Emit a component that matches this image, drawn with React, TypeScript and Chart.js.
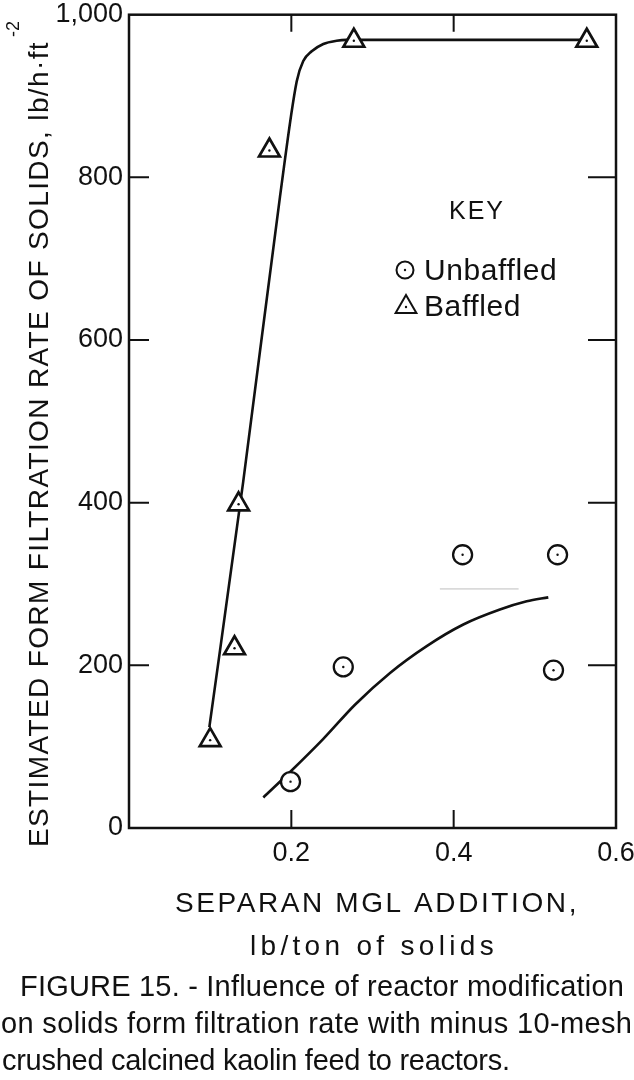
import React, { useEffect, useRef } from "react";
import { Chart, registerables } from "chart.js";

Chart.register(...registerables);

// ---------- data ----------
const xTickValues = [0, 0.2, 0.4, 0.6];
const yTickValues = [0, 200, 400, 600, 800, 1000];

const baffledX = [0.1, 0.13, 0.135, 0.173, 0.277, 0.564];
const baffledY = [108, 221, 398, 833, 968, 968];

const unbaffledX = [0.199, 0.264, 0.411, 0.528, 0.523];
const unbaffledY = [57, 198, 336, 336, 194];

const baffledCurveX = [0.099, 0.1406, 0.186, 0.2066, 0.2147, 0.2251, 0.2394, 0.2559, 0.2682, 0.564];
const baffledCurveY = [124, 425, 776, 918, 943, 955, 964, 968, 969, 969];

const unbaffledCurveX = [0.1655, 0.1984, 0.2394, 0.2784, 0.3216, 0.3668, 0.4119, 0.457, 0.49, 0.5166];
const unbaffledCurveY = [37.5, 68.8, 109.6, 151.6, 190.7, 223.7, 250.2, 268.6, 278.7, 283.6];

// faint scan mark visible in the original figure
const scanMarkX = [0.383, 0.48];
const scanMarkY = [294, 294];

const keyTitle = "KEY";
const seriesNames = ["Unbaffled", "Baffled"];
const xTitleLines = ["SEPARAN MGL ADDITION,", "lb/ton of solids"];
const yTitleMain = "ESTIMATED FORM FILTRATION RATE OF SOLIDS, lb/h\u00B7ft";
const yTitleSup = "-2";
const captionLines = [
  "FIGURE 15. - Influence of reactor modification",
  "on solids form filtration rate with minus 10-mesh",
  "crushed calcined kaolin feed to reactors.",
];

const INK = "#111";
const FONT = "'Liberation Sans', Arial, sans-serif";

const toPts = (xs: number[], ys: number[]) => xs.map((x, i) => ({ x, y: ys[i] }));

function fitText(ctx: CanvasRenderingContext2D, text: string, x: number, y: number, width: number) {
  (ctx as any).letterSpacing = "0px";
  const w0 = ctx.measureText(text).width;
  const ls = (width - w0) / text.length;
  (ctx as any).letterSpacing = ls + "px";
  ctx.fillText(text, x, y);
  (ctx as any).letterSpacing = "0px";
}

const framePlugin = {
  id: "frameTicks",
  beforeDatasetsDraw(chart: any) {
    const { ctx, chartArea } = chart;
    const { left, right, top, bottom } = chartArea;
    const xs = chart.scales.x;
    const ys = chart.scales.y;
    ctx.save();
    ctx.strokeStyle = INK;
    ctx.lineWidth = 2.5;
    ctx.strokeRect(left, top, right - left, bottom - top);
    ctx.lineWidth = 2;
    ctx.beginPath();
    xs.ticks.forEach((t: any) => {
      if (t.value <= xs.min || t.value >= xs.max) return;
      const px = xs.getPixelForValue(t.value);
      ctx.moveTo(px, bottom);
      ctx.lineTo(px, bottom - 18);
      ctx.moveTo(px, top);
      ctx.lineTo(px, top + 17);
    });
    ys.ticks.forEach((t: any) => {
      if (t.value <= ys.min || t.value >= ys.max) return;
      const py = ys.getPixelForValue(t.value);
      ctx.moveTo(left, py);
      ctx.lineTo(left + 20, py);
      ctx.moveTo(right, py);
      ctx.lineTo(right - 28, py);
    });
    ctx.stroke();
    ctx.restore();
  },
};

const keyPlugin = {
  id: "keyBox",
  afterDraw(chart: any) {
    const { ctx } = chart;
    ctx.save();
    ctx.fillStyle = INK;
    ctx.strokeStyle = INK;
    ctx.textBaseline = "alphabetic";
    ctx.font = `25px ${FONT}`;
    ctx.textAlign = "center";
    (ctx as any).letterSpacing = "2px";
    ctx.fillText(keyTitle, 477, 219);
    (ctx as any).letterSpacing = "0.6px";
    ctx.textAlign = "left";
    ctx.font = `30px ${FONT}`;
    // circle symbol
    ctx.lineWidth = 2;
    ctx.beginPath();
    ctx.arc(405, 270, 8.5, 0, Math.PI * 2);
    ctx.stroke();
    ctx.beginPath();
    ctx.arc(405, 270, 1.2, 0, Math.PI * 2);
    ctx.fill();
    ctx.fillText(seriesNames[0], 424, 280);
    // triangle symbol
    const cx = 406, cy = 307, r = 12;
    ctx.beginPath();
    for (let i = 0; i < 3; i++) {
      const a = (i * 2 * Math.PI) / 3;
      const px = cx + Math.sin(a) * r;
      const py = cy - Math.cos(a) * r;
      if (i === 0) ctx.moveTo(px, py);
      else ctx.lineTo(px, py);
    }
    ctx.closePath();
    ctx.stroke();
    ctx.beginPath();
    ctx.arc(cx, cy, 1.2, 0, Math.PI * 2);
    ctx.fill();
    ctx.fillText(seriesNames[1], 424, 316);
    (ctx as any).letterSpacing = "0px";
    ctx.restore();
  },
};

const titlesPlugin = {
  id: "axisTitles",
  afterDraw(chart: any) {
    const { ctx } = chart;
    ctx.save();
    ctx.fillStyle = INK;
    ctx.textAlign = "left";
    ctx.textBaseline = "alphabetic";
    ctx.font = `28px ${FONT}`;
    fitText(ctx, xTitleLines[0], 175, 912, 404);
    fitText(ctx, xTitleLines[1], 250, 955, 248);
    // y title, rotated
    ctx.translate(48, 847);
    ctx.rotate(-Math.PI / 2);
    ctx.font = `28px ${FONT}`;
    fitText(ctx, yTitleMain, 0, 0, 806);
    ctx.font = `18px ${FONT}`;
    ctx.fillText(yTitleSup, 810, -29);
    ctx.restore();
  },
};

export default function App() {
  const canvasRef = useRef<HTMLCanvasElement>(null);

  useEffect(() => {
    const canvas = canvasRef.current;
    if (!canvas) return;
    const chart = new Chart(canvas, {
      type: "scatter",
      data: {
        datasets: [
          {
            label: "dotsB",
            data: toPts(baffledX, baffledY),
            pointRadius: 1.2,
            pointBackgroundColor: INK,
            pointBorderWidth: 0,
          },
          {
            label: "dotsU",
            data: toPts(unbaffledX, unbaffledY),
            pointRadius: 1.2,
            pointBackgroundColor: INK,
            pointBorderWidth: 0,
          },
          {
            label: seriesNames[1],
            data: toPts(baffledX, baffledY),
            pointStyle: "triangle",
            pointRadius: 12,
            pointBorderWidth: 2.7,
            pointBorderColor: INK,
            pointBackgroundColor: "#fff",
          },
          {
            label: seriesNames[0],
            data: toPts(unbaffledX, unbaffledY),
            pointStyle: "circle",
            pointRadius: 9.5,
            pointBorderWidth: 2.3,
            pointBorderColor: INK,
            pointBackgroundColor: "#fff",
          },
          {
            label: "baffledCurve",
            data: toPts(baffledCurveX, baffledCurveY),
            showLine: true,
            pointRadius: 0,
            borderColor: INK,
            borderWidth: 2.6,
            cubicInterpolationMode: "monotone",
          },
          {
            label: "unbaffledCurve",
            data: toPts(unbaffledCurveX, unbaffledCurveY),
            showLine: true,
            pointRadius: 0,
            borderColor: INK,
            borderWidth: 2.6,
            cubicInterpolationMode: "monotone",
          },
          {
            label: "scanMark",
            data: toPts(scanMarkX, scanMarkY),
            showLine: true,
            pointRadius: 0,
            borderColor: "#dadada",
            borderWidth: 1.6,
          },
        ] as any,
      },
      options: {
        responsive: false,
        maintainAspectRatio: false,
        animation: false,
        layout: { padding: { left: 0, right: 18, top: 10, bottom: 0 } },
        plugins: {
          legend: { display: false },
          tooltip: { enabled: false },
          title: { display: false },
        },
        scales: {
          x: {
            type: "linear",
            min: 0,
            max: 0.6,
            afterBuildTicks: (s: any) => {
              s.ticks = xTickValues.map((v) => ({ value: v }));
            },
            grid: { display: false, drawTicks: false },
            border: { display: false },
            title: { display: false },
            ticks: {
              padding: 9,
              autoSkip: false,
              maxRotation: 0,
              color: INK,
              font: { family: FONT, size: 27 },
              callback: (v: any) => (Number(v) === 0 ? "" : Number(v).toFixed(1)),
            },
            afterFit: (s: any) => {
              s.height = 142;
              s.paddingLeft = 0;
              s.paddingRight = 0;
            },
          },
          y: {
            type: "linear",
            min: 0,
            max: 1000,
            afterBuildTicks: (s: any) => {
              s.ticks = yTickValues.map((v) => ({ value: v }));
            },
            grid: { display: false, drawTicks: false },
            border: { display: false },
            title: { display: false },
            ticks: {
              padding: 6,
              autoSkip: false,
              color: INK,
              font: { family: FONT, size: 27 },
              callback: (v: any) => Number(v).toLocaleString("en-US"),
            },
            afterFit: (s: any) => {
              s.width = 129;
              s.paddingTop = 0;
              s.paddingBottom = 0;
            },
          },
        },
      } as any,
      plugins: [framePlugin, keyPlugin, titlesPlugin],
    });
    return () => chart.destroy();
  }, []);

  return (
    <div
      style={{
        position: "absolute",
        left: 0,
        top: 0,
        width: 634,
        height: 1080,
        background: "#fff",
        overflow: "hidden",
      }}
    >
      <canvas
        ref={canvasRef}
        width={634}
        height={970}
        style={{ position: "absolute", left: 0, top: 0, width: 634, height: 970 }}
      />
      <svg
        width={634}
        height={1080}
        style={{ position: "absolute", left: 0, top: 0, pointerEvents: "none" }}
      >
        <g fill={INK} fontFamily={FONT} fontSize={29}>
          <text x={20} y={996} textLength={604} lengthAdjust="spacing">
            {captionLines[0]}
          </text>
          <text x={1} y={1033} textLength={631} lengthAdjust="spacing">
            {captionLines[1]}
          </text>
          <text x={2} y={1070} textLength={508} lengthAdjust="spacing">
            {captionLines[2]}
          </text>
        </g>
      </svg>
    </div>
  );
}
